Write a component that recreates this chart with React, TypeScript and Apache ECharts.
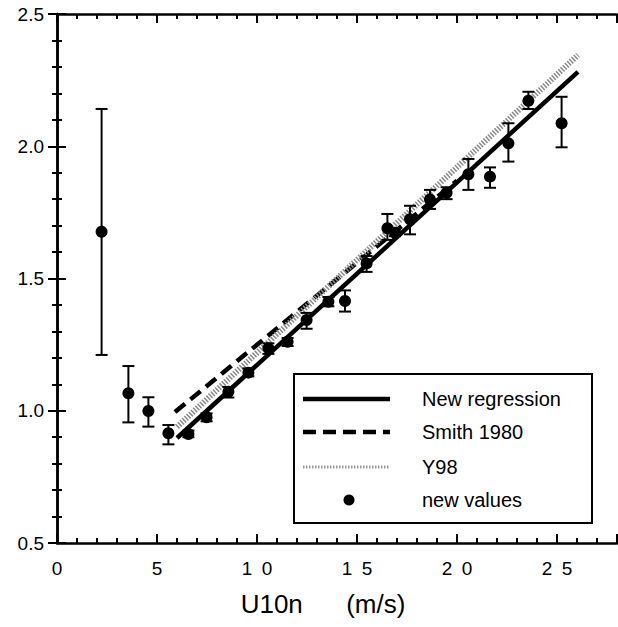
import React, { useEffect, useRef } from "react";
import * as echarts from "echarts";

// Measured points (new values)
const windSpeed = [2.23, 3.57, 4.57, 5.57, 6.57, 7.48, 8.57, 9.57, 10.57, 11.53, 12.48, 13.57, 14.4, 15.48, 16.52, 16.9, 17.65, 18.65, 19.48, 20.57, 21.65, 22.57, 23.57, 25.23];
const cdValues = [1.677, 1.066, 0.999, 0.915, 0.912, 0.975, 1.072, 1.144, 1.236, 1.261, 1.343, 1.412, 1.415, 1.557, 1.69, 1.673, 1.724, 1.799, 1.824, 1.894, 1.885, 2.011, 2.172, 2.087];
const errLow = [1.211, 0.956, 0.94, 0.873, 0.9, 0.96, 1.05, 1.13, 1.215, 1.245, 1.31, 1.395, 1.375, 1.525, 1.646, 1.66, 1.667, 1.763, 1.8, 1.835, 1.843, 1.942, 2.141, 1.996];
const errHigh = [2.141, 1.169, 1.051, 0.946, 0.925, 0.99, 1.09, 1.16, 1.255, 1.275, 1.37, 1.43, 1.455, 1.585, 1.744, 1.685, 1.775, 1.835, 1.845, 1.952, 1.92, 2.087, 2.206, 2.187];

// Fitted lines (end points)
const regressionX = [6.0, 26.05];
const regressionY = [0.897, 2.281];
const smithX = [5.9, 20.0];
const smithY = [0.995, 1.87];
const y98X = [6.0, 26.05];
const y98Y = [0.939, 2.345];

const xTicks = [0, 5, 10, 15, 20, 25];
const yTicks = [0.5, 1.0, 1.5, 2.0, 2.5];

const legendNames = ["New regression", "Smith 1980", "Y98", "new values"];

const FONT = "'Liberation Sans', Arial, Helvetica, sans-serif";

export default function App() {
  const ref = useRef<HTMLDivElement>(null);
  useEffect(() => {
    if (!ref.current) return;
    const chart = echarts.init(ref.current, null, { renderer: "svg" });
    const pts = windSpeed.map((x, i) => [x, cdValues[i]]);
    const errs = windSpeed.map((x, i) => [x, errLow[i], errHigh[i]]);
    const pair = (xs: number[], ys: number[]) => xs.map((x, i) => [x, ys[i]]);

    const axisCommon = {
      type: "value" as const,
      axisLine: { show: true, lineStyle: { color: "#000", width: 2.5 } },
      axisTick: { show: true, inside: true, length: 9, lineStyle: { color: "#000", width: 2 } },
      minorTick: { show: true, splitNumber: 5, length: 5, lineStyle: { color: "#000", width: 2 } },
      splitLine: { show: false },
    };

    chart.setOption({
      animation: false,
      backgroundColor: "#fff",
      grid: { left: 57, right: 1, top: 14, bottom: 84, containLabel: false },
      xAxis: [
        {
          ...axisCommon,
          position: "bottom",
          min: xTicks[0],
          max: 28,
          interval: 5,
          name: "U10n      (m/s)",
          nameLocation: "middle",
          nameGap: 48,
          nameTextStyle: { fontFamily: FONT, fontSize: 26, color: "#000", padding: [0, 28, 0, 0], verticalAlign: "top" },
          axisLabel: {
            show: true,
            margin: 16,
            showMaxLabel: false,
            fontFamily: FONT,
            fontSize: 19,
            color: "#000",
            formatter: (v: number) => (xTicks.includes(v) ? String(v).split("").join("\u2002") : ""),
          },
        },
        {
          ...axisCommon,
          position: "top",
          min: xTicks[0],
          max: 28,
          interval: 5,
          axisLabel: { show: false },
        },
      ],
      yAxis: [
        {
          ...axisCommon,
          position: "left",
          min: yTicks[0],
          max: yTicks[yTicks.length - 1],
          interval: 0.5,
          axisLabel: {
            show: true,
            margin: 13,
            fontFamily: FONT,
            fontSize: 19,
            color: "#000",
            formatter: (v: number) => v.toFixed(1),
          },
        },
        {
          ...axisCommon,
          position: "right",
          min: yTicks[0],
          max: yTicks[yTicks.length - 1],
          interval: 0.5,
          axisLabel: { show: false },
        },
      ],
      series: [
        {
          name: legendNames[1],
          type: "line",
          data: pair(smithX, smithY),
          showSymbol: false,
          symbol: "none",
          lineStyle: { color: "#000", width: 4.5, type: [13, 7] },
          z: 2,
        },
        {
          name: legendNames[2],
          type: "line",
          data: pair(y98X, y98Y),
          showSymbol: false,
          symbol: "none",
          lineStyle: { color: "#8a8a8a", width: 6, type: [1.5, 1.5] },
          z: 3,
        },
        {
          name: legendNames[0],
          type: "line",
          data: pair(regressionX, regressionY),
          showSymbol: false,
          symbol: "none",
          lineStyle: { color: "#000", width: 4.5 },
          z: 4,
        },
        {
          name: "error",
          type: "custom",
          data: errs,
          z: 5,
          renderItem: (params: any, api: any) => {
            const x = api.value(0);
            const top = api.coord([x, api.value(2)]);
            const bot = api.coord([x, api.value(1)]);
            const hw = 6;
            const st = { stroke: "#000", lineWidth: 2 };
            return {
              type: "group",
              children: [
                { type: "line", shape: { x1: top[0], y1: top[1], x2: bot[0], y2: bot[1] }, style: st },
                { type: "line", shape: { x1: top[0] - hw, y1: top[1], x2: top[0] + hw, y2: top[1] }, style: st },
                { type: "line", shape: { x1: bot[0] - hw, y1: bot[1], x2: bot[0] + hw, y2: bot[1] }, style: st },
              ],
            };
          },
        },
        {
          name: legendNames[3],
          type: "scatter",
          data: pts,
          symbol: "circle",
          symbolSize: 12,
          itemStyle: { color: "#000", opacity: 1 },
          z: 6,
        },
      ],
      graphic: [
        {
          type: "group",
          left: 293,
          top: 373,
          z: 100,
          children: [
            { type: "rect", shape: { x: 0, y: 0, width: 298, height: 149 }, style: { fill: "#fff", stroke: "#000", lineWidth: 2 } },
            { type: "line", shape: { x1: 9, y1: 25, x2: 96, y2: 25 }, style: { stroke: "#000", lineWidth: 4.5 } },
            { type: "line", shape: { x1: 9, y1: 58, x2: 96, y2: 58 }, style: { stroke: "#000", lineWidth: 4.5, lineDash: [13, 7] } },
            { type: "line", shape: { x1: 9, y1: 93, x2: 96, y2: 93 }, style: { stroke: "#999", lineWidth: 3, lineDash: [1.5, 1.5] } },
            { type: "circle", shape: { cx: 55, cy: 126, r: 5.5 }, style: { fill: "#000" } },
            { type: "text", x: 128, y: 25, style: { text: legendNames[0], font: `20px ${FONT}`, fill: "#000", verticalAlign: "middle" } },
            { type: "text", x: 128, y: 58, style: { text: legendNames[1], font: `20px ${FONT}`, fill: "#000", verticalAlign: "middle" } },
            { type: "text", x: 128, y: 93, style: { text: legendNames[2], font: `20px ${FONT}`, fill: "#000", verticalAlign: "middle" } },
            { type: "text", x: 128, y: 126, style: { text: legendNames[3], font: `20px ${FONT}`, fill: "#000", verticalAlign: "middle" } },
          ],
        },
      ],
    });
    return () => chart.dispose();
  }, []);
  return <div ref={ref} style={{ position: "absolute", left: 0, top: 0, width: 618, height: 627 }} />;
}
